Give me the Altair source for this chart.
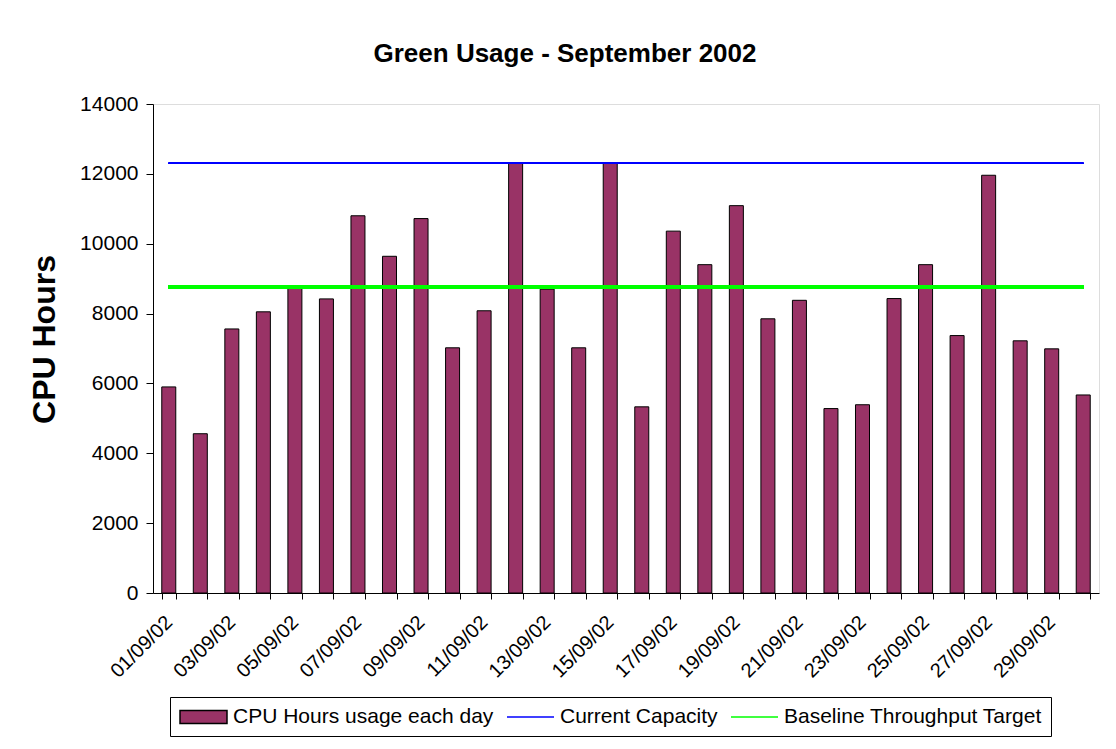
import altair as alt
import pandas as pd

days = ["01/09/02", "02/09/02", "03/09/02", "04/09/02", "05/09/02", "06/09/02",
        "07/09/02", "08/09/02", "09/09/02", "10/09/02", "11/09/02", "12/09/02",
        "13/09/02", "14/09/02", "15/09/02", "16/09/02", "17/09/02", "18/09/02",
        "19/09/02", "20/09/02", "21/09/02", "22/09/02", "23/09/02", "24/09/02",
        "25/09/02", "26/09/02", "27/09/02", "28/09/02", "29/09/02", "30/09/02"]
cpu_hours = [5900, 4560, 7560, 8050, 8740, 8420, 10800, 9640, 10720, 7020,
             8080, 12300, 8700, 7020, 12300, 5330, 10360, 9400, 11090, 7850,
             8380, 5280, 5390, 8430, 9400, 7370, 11960, 7220, 6990, 5670]
current_capacity = 12300
baseline_target = 8760
series_names = ["CPU Hours usage each day", "Current Capacity", "Baseline Throughput Target"]
y_ticks = [0, 2000, 4000, 6000, 8000, 10000, 12000, 14000]

FONT = "Liberation Sans"

bars_df = pd.DataFrame({"day": days, "hours": cpu_hours})
legend_df = pd.DataFrame({"series": series_names})

x_scale = alt.Scale(domain=days, paddingInner=0.556, paddingOuter=0.278)
y_scale = alt.Scale(domain=[0, 14000], nice=False)

x_axis = alt.Axis(
    title=None, labelAngle=-45, labelAlign="right", labelBaseline="middle",
    labelFontSize=20, labelFont=FONT, labelColor="black", labelPadding=20,
    tickBand="extent", tickSize=6, tickColor="black", domainColor="black",
    labelExpr="parseInt(substring(datum.label, 0, 2)) % 2 == 1 ? datum.label : ''",
    labelOverlap=False, grid=False,
)
y_axis = alt.Axis(
    title="CPU Hours", values=y_ticks, format="d", labelFontSize=21, labelFont=FONT,
    labelColor="black", labelPadding=8, tickSize=7, tickColor="black",
    domainColor="black", grid=False, titleFontSize=32, titleFont=FONT,
    titleFontWeight="bold", titleColor="black", titleX=-109, titleY=235,
    titleAngle=-90, titleAlign="center", titleBaseline="middle",
)

bars = alt.Chart(bars_df).mark_bar(
    fill="#993366", stroke="black", strokeWidth=1
).encode(
    x=alt.X("day:N", scale=x_scale, axis=x_axis, sort=days),
    y=alt.Y("hours:Q", scale=y_scale, axis=y_axis),
)

capacity = alt.Chart(bars_df).mark_rule(color="#0000ff", strokeWidth=1.2).encode(
    x=alt.datum(days[0]),
    x2=alt.datum(days[-1]),
    y=alt.datum(current_capacity),
)

baseline = alt.Chart(bars_df).mark_rule(color="#00ff00", strokeWidth=3.5).encode(
    x=alt.datum(days[0]),
    x2=alt.datum(days[-1]),
    y=alt.datum(baseline_target),
)

rect_path = "M-1,-0.65H3.7V0.65H-1Z"
line_path = "M-1,0H3.7"

leg = alt.Legend(
    title=None, orient="none", legendX=17, legendY=593, direction="horizontal",
    labelFontSize=21, labelFont=FONT, labelColor="black", labelOffset=32,
    labelLimit=600, columnPadding=10, symbolSize=400, symbolOpacity=1, padding=9,
    strokeColor="black", fillColor="white", cornerRadius=0,
)

legend_layer = alt.Chart(legend_df).mark_point(opacity=0).encode(
    x=alt.datum(days[0]),
    y=alt.datum(0),
    fill=alt.Fill("series:N", scale=alt.Scale(domain=series_names,
                  range=["#993366", "transparent", "transparent"]), legend=leg),
    stroke=alt.Stroke("series:N", scale=alt.Scale(domain=series_names,
                      range=["#000000", "#0000ff", "#00ff00"]), legend=leg),
    shape=alt.Shape("series:N", scale=alt.Scale(domain=series_names,
                    range=[rect_path, line_path, line_path]), legend=leg),
    strokeWidth=alt.StrokeWidth("series:N", scale=alt.Scale(domain=series_names,
                                range=[1.5, 1.5, 3.5]), legend=leg),
)

chart = alt.layer(bars, capacity, baseline, legend_layer).properties(
    width=946, height=489,
    title=alt.TitleParams("Green Usage - September 2002", fontSize=26, font=FONT,
                          fontWeight="bold", color="black", offset=26, dx=-61),
    autosize=alt.AutoSizeParams(type="none"),
    padding={"left": 145, "top": 96, "right": 5, "bottom": 146},
).configure_view(stroke="#a0a0a0", strokeWidth=1).configure(
    background="white", font=FONT
)

chart.save("out.html", embed_options={"renderer": "svg", "actions": False})
